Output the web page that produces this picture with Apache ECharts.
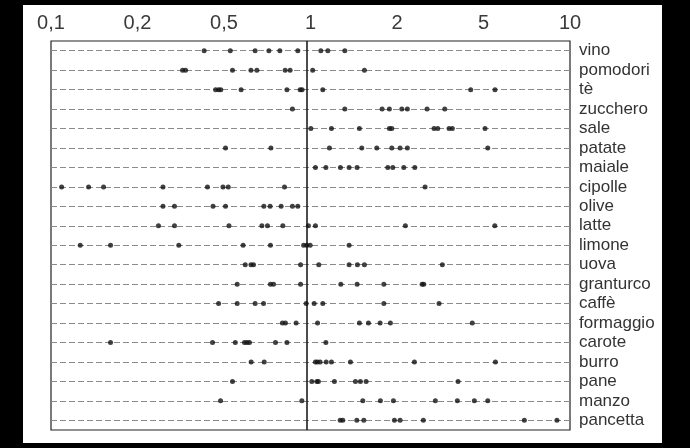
<!DOCTYPE html>
<html>
<head>
<meta charset="utf-8">
<script src="https://cdn.jsdelivr.net/npm/echarts@6/dist/echarts.min.js"></script>
<style>
html,body{margin:0;padding:0;background:#000;}
#chart{width:690px;height:448px;}
</style>
</head>
<body>
<div id="chart"></div>
<script>
const categories = ['vino','pomodori','tè','zucchero','sale','patate','maiale','cipolle','olive','latte','limone','uova','granturco','caffè','formaggio','carote','burro','pane','manzo','pancetta'];
const tickLabels = ['0,1','0,2','0,5','1','2','5','10'];

const vino      = [0.402, 0.507, 0.632, 0.714, 0.787, 0.923, 1.132, 1.205, 1.401];
const pomodori  = [0.332, 0.341, 0.517, 0.609, 0.642, 0.825, 0.862, 1.053, 1.667];
const te        = [0.445, 0.457, 0.466, 0.558, 0.838, 0.942, 0.959, 1.152, 4.28, 5.31];
const zucchero  = [0.880, 1.401, 1.950, 2.080, 2.322, 2.440, 2.906, 3.400];
const sale      = [1.036, 1.244, 1.594, 2.080, 2.125, 3.092, 3.195, 3.532, 3.637, 4.86];
const patate    = [0.486, 0.727, 1.222, 1.628, 1.860, 2.125, 2.287, 2.440, 4.98];
const maiale    = [1.079, 1.184, 1.347, 1.455, 1.562, 2.051, 2.144, 2.363, 2.606];
const cipolle   = [0.1135, 0.1442, 0.1647, 0.279, 0.414, 0.475, 0.498, 0.820, 2.855];
const olive     = [0.279, 0.309, 0.435, 0.486, 0.683, 0.722, 0.796, 0.880, 0.923];
const latte     = [0.268, 0.309, 0.501, 0.671, 0.705, 0.808, 1.014, 1.079, 2.397, 5.30];
const limone    = [0.1339, 0.1752, 0.321, 0.568, 0.724, 0.972, 1.0, 1.030, 1.455];
const uova      = [0.579, 0.609, 0.623, 0.946, 1.112, 1.455, 1.566, 1.667, 3.328];
const granturco = [0.539, 0.724, 0.744, 0.946, 1.352, 1.562, 1.980, 2.780, 2.822];
const caffe     = [0.457, 0.539, 0.632, 0.681, 0.994, 1.067, 1.152, 1.980, 3.232];
const formaggio = [0.805, 0.827, 0.909, 1.100, 1.594, 1.727, 1.916, 2.099, 4.34];
const carote    = [0.1752, 0.433, 0.530, 0.575, 0.588, 0.601, 0.757, 0.838, 1.184];
const burro     = [0.610, 0.685, 1.079, 1.098, 1.125, 1.187, 1.244, 1.472, 2.597, 5.33];
const pane      = [0.517, 1.045, 1.093, 1.108, 1.277, 1.539, 1.608, 1.692, 3.825];
const manzo     = [0.465, 0.957, 1.643, 1.921, 2.156, 3.128, 3.802, 4.42, 4.98];
const pancetta  = [1.344, 1.376, 1.558, 1.658, 2.175, 2.287, 2.812, 6.89, 9.20];

const rows = [vino, pomodori, te, zucchero, sale, patate, maiale, cipolle, olive, latte,
              limone, uova, granturco, caffe, formaggio, carote, burro, pane, manzo, pancetta];

const points = [];
rows.forEach((arr, i) => arr.forEach(v => points.push([v, categories[i]])));

const chart = echarts.init(document.getElementById('chart'), null, {renderer: 'canvas'});
const font = '"Liberation Sans", Arial, sans-serif';
chart.setOption({
  backgroundColor: '#000',
  animation: false,
  graphic: {
    elements: [{
      type: 'rect', z: -10, silent: true,
      shape: {x: 23, y: 5, width: 639, height: 438},
      style: {fill: '#fff'}
    }]
  },
  grid: {
    left: 51, top: 41, width: 519, height: 389,
    show: true, borderColor: '#222', borderWidth: 1.2, backgroundColor: 'transparent'
  },
  xAxis: [
    {
      type: 'log', logBase: 10, min: 0.1033, max: 10.33,
      show: false, splitLine: {show: false}
    },
    {
      type: 'category', position: 'top', boundaryGap: false,
      data: tickLabels,
      axisLine: {show: false}, axisTick: {show: false}, splitLine: {show: false},
      axisLabel: {color: '#3a3a3a', fontSize: 20, fontFamily: font, margin: 8}
    }
  ],
  yAxis: {
    type: 'category', inverse: true, position: 'right',
    data: categories,
    axisLine: {show: false}, axisTick: {show: false}, splitLine: {show: false},
    axisLabel: {color: '#333', fontSize: 17, fontFamily: font, align: 'left', margin: 9, interval: 0}
  },
  series: [{
    type: 'scatter',
    xAxisIndex: 0,
    symbol: 'circle', symbolSize: 5,
    itemStyle: {color: '#111'},
    data: points,
    z: 5,
    markLine: {
      silent: true, symbol: 'none', animation: false,
      label: {show: false},
      data: categories.map(c => ({yAxis: c, lineStyle: {color: '#8a8a8a', width: 1, type: [6, 3]}}))
        .concat([{xAxis: 1, lineStyle: {color: '#111', width: 1.5, type: 'solid'}}])
    }
  }]
});
</script>
</body>
</html>
